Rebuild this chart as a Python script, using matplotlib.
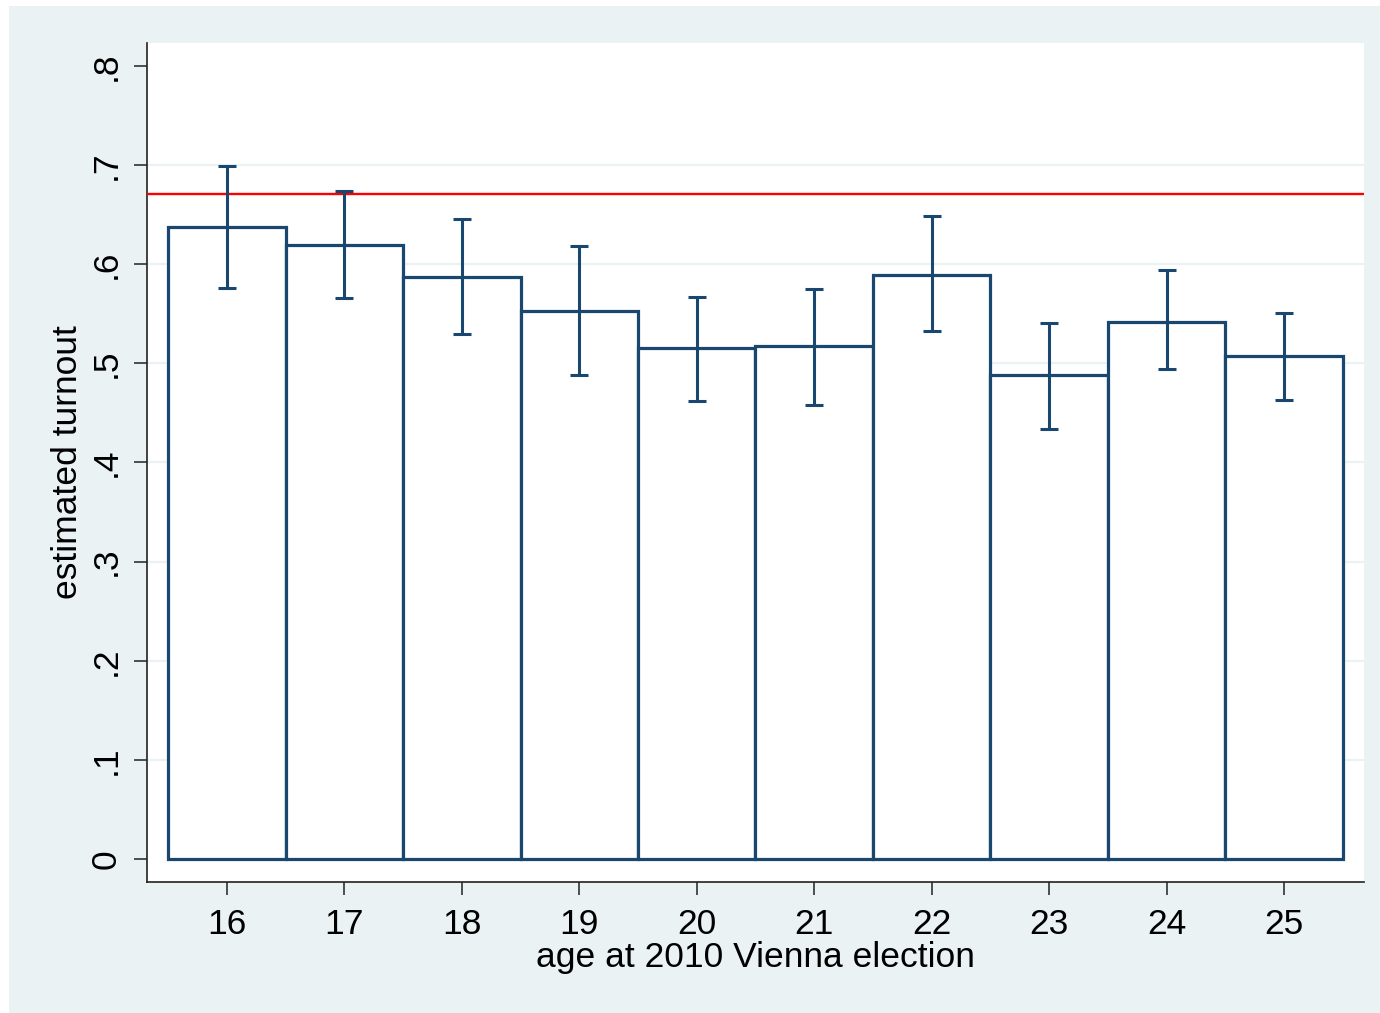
import matplotlib
matplotlib.use("Agg")
import matplotlib.pyplot as plt
from matplotlib.patches import Rectangle

plt.rcParams['font.family'] = ['Liberation Sans', 'DejaVu Sans']

# estimated turnout by age, with 95% intervals
ages = [16, 17, 18, 19, 20, 21, 22, 23, 24, 25]
turnout = [0.637, 0.619, 0.587, 0.553, 0.515, 0.517, 0.589, 0.488, 0.542, 0.507]
ci_low = [0.576, 0.566, 0.530, 0.488, 0.462, 0.458, 0.533, 0.434, 0.494, 0.463]
ci_high = [0.699, 0.674, 0.646, 0.618, 0.567, 0.575, 0.649, 0.541, 0.594, 0.551]
overall = 0.671

yticks = [0, 0.1, 0.2, 0.3, 0.4, 0.5, 0.6, 0.7, 0.8]
ytick_labels = ["0", ".1", ".2", ".3", ".4", ".5", ".6", ".7", ".8"]

navy = "#1A476F"
bg = "#EAF2F3"

fig = plt.figure(figsize=(13.8, 10.13), dpi=100, facecolor="white")
# light graph region, with a thin white margin at top and left
fig.patches.append(Rectangle((9 / 1380, 0), 1 - 9 / 1380, 1 - 6 / 1013,
                             transform=fig.transFigure, facecolor=bg,
                             edgecolor="none", zorder=-10))

ax = fig.add_axes([147 / 1380, 131 / 1013, 1217 / 1380, 839 / 1013])
ax.set_facecolor("white")

for y in yticks[1:-1]:
    ax.axhline(y, color=bg, lw=1.6, zorder=0)

ax.bar(ages, turnout, width=1.0, color="white", edgecolor=navy,
       linewidth=2.3, zorder=2)
ax.axhline(overall, color="#FF0000", lw=1.7, zorder=3)

lo = [t - l for t, l in zip(turnout, ci_low)]
hi = [h - t for t, h in zip(turnout, ci_high)]
ax.errorbar(ages, turnout, yerr=[lo, hi], fmt="none", ecolor=navy,
            elinewidth=2.2, capsize=6.2, capthick=2.2, zorder=4)

ax.set_xlim(15.32, 25.68)
ax.set_ylim(-0.023, 0.823)

ax.set_xticks(ages)
ax.set_xticklabels([str(a) for a in ages], fontsize=25.5)
ax.set_yticks(yticks)
ax.set_yticklabels(ytick_labels, fontsize=25.5, rotation=90, va="center")

for side in ["top", "right"]:
    ax.spines[side].set_visible(False)
for side in ["left", "bottom"]:
    ax.spines[side].set_color("#222222")
    ax.spines[side].set_linewidth(1.2)
ax.tick_params(direction="out", length=9.5, width=1.1, color="#222222",
               labelcolor="black")
ax.tick_params(axis="x", pad=9)
ax.tick_params(axis="y", pad=8)

ax.set_xlabel("age at 2010 Vienna election", fontsize=25.5, labelpad=0)
ax.set_ylabel("estimated turnout", fontsize=25.5, labelpad=4)

fig.savefig("out.png", dpi=100, facecolor=fig.get_facecolor())
